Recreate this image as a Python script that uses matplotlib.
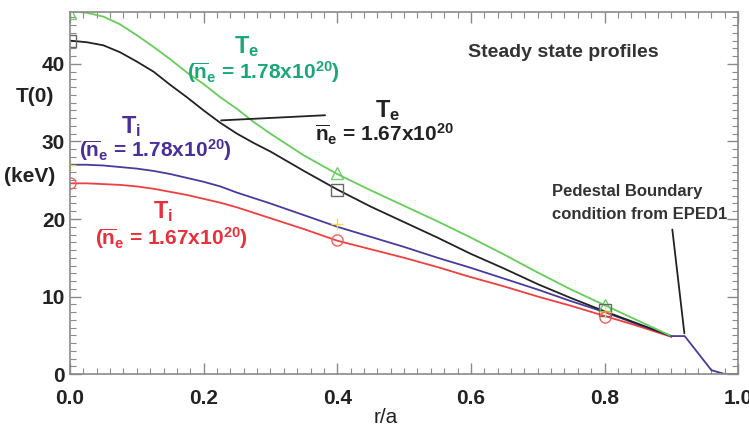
import matplotlib
matplotlib.use("Agg")
import matplotlib.pyplot as plt
from matplotlib.ticker import MultipleLocator

# radial grid (r/a) for the core profiles
r_core = [0.0, 0.025, 0.05, 0.075, 0.1, 0.125, 0.15, 0.175, 0.2, 0.225,
          0.25, 0.275, 0.3, 0.35, 0.4, 0.45, 0.5, 0.55, 0.6, 0.65,
          0.7, 0.75, 0.8, 0.85, 0.9]
te_178 = [46.8, 46.6, 46.1, 45.1, 43.7, 42.2, 40.6, 38.9, 37.4, 35.7,
          34.2, 32.5, 31.0, 28.2, 25.8, 23.7, 21.7, 19.7, 17.6, 15.4,
          13.1, 10.9, 8.9, 6.9, 4.9]
te_167 = [43.0, 42.8, 42.4, 41.5, 40.3, 39.0, 37.3, 35.7, 34.0, 32.4,
          31.0, 29.8, 28.7, 26.2, 23.8, 21.6, 19.6, 17.6, 15.5, 13.6,
          11.6, 9.8, 8.1, 6.5, 4.9]
ti_178 = [27.0, 27.0, 26.9, 26.7, 26.5, 26.2, 25.8, 25.3, 24.8, 24.2,
          23.4, 22.7, 22.0, 20.5, 19.0, 17.7, 16.4, 15.0, 13.7, 12.3,
          10.9, 9.4, 8.0, 6.4, 4.9]
ti_167 = [24.6, 24.6, 24.5, 24.4, 24.2, 23.9, 23.5, 23.1, 22.6, 22.1,
          21.5, 20.8, 20.1, 18.7, 17.2, 16.1, 15.0, 13.8, 12.5, 11.3,
          10.0, 8.8, 7.5, 6.2, 4.8]

# shared pedestal (EPED1 boundary condition)
r_ped = [0.9, 0.92, 0.96, 0.98, 1.0]
t_ped = [4.9, 4.9, 0.5, 0.0, 0.0]

# marker samples at r/a = 0, 0.4, 0.8
r_mark = [0.0, 0.4, 0.8]
te_178_mark = [46.6, 25.9, 8.9]
te_167_mark = [43.0, 23.7, 8.2]
ti_178_mark = [27.0, 19.3, 8.0]
ti_167_mark = [24.6, 17.3, 7.4]

x_ticks = [0.0, 0.2, 0.4, 0.6, 0.8, 1.0]
y_ticks = [0, 10, 20, 30, 40]

FAMILY = "Liberation Sans"
plt.rcParams["font.family"] = [FAMILY, "DejaVu Sans"]
plt.rcParams["font.weight"] = "bold"
plt.rcParams["mathtext.fontset"] = "custom"
plt.rcParams["mathtext.rm"] = f"{FAMILY}:bold"
plt.rcParams["mathtext.it"] = f"{FAMILY}:bold"
plt.rcParams["mathtext.bf"] = f"{FAMILY}:bold"

GREEN = "#66cc5a"
GREEN_TXT = "#1aa877"
BLACK = "#222222"
BLUE = "#4a3a9e"
BLUE_TXT = "#4a2f9a"
RED = "#ee4040"
RED_TXT = "#e8303a"
AXIS = "#8a8a8a"

fig = plt.figure(figsize=(7.49, 4.28), dpi=100)
ax = fig.add_axes([0.0935, 0.126, 0.892, 0.846])

for vals, col in [(ti_167, RED), (ti_178, BLUE), (te_167, BLACK), (te_178, GREEN)]:
    ax.plot(r_core, vals, color=col, lw=1.3)
ax.plot(r_ped, t_ped, color=BLUE, lw=1.3)

ax.plot(r_mark, te_178_mark, ls="none", marker="^", ms=8, mfc="none", mec="#6fd06a", mew=1.0)
ax.plot(r_mark, te_167_mark, ls="none", marker="s", ms=8, mfc="none", mec="#666666", mew=1.0)
ax.plot(r_mark, ti_178_mark, ls="none", marker="+", ms=9, mec="#e8e040", mew=1.0)
ax.plot(r_mark, ti_167_mark, ls="none", marker="o", ms=8, mfc="none", mec="#f06060", mew=1.0)

ax.set_xlim(0, 1.0)
ax.set_ylim(0, 46.7)
ax.set_xticks(x_ticks)
ax.set_xticklabels([f"{v:.1f}" for v in x_ticks])
ax.set_yticks(y_ticks)
ax.xaxis.set_minor_locator(MultipleLocator(0.02))
ax.yaxis.set_minor_locator(MultipleLocator(1))
ax.tick_params(which="both", direction="in", top=True, right=True, color=AXIS,
               labelsize=15, labelcolor="#222222")
ax.tick_params(which="major", length=8, width=1.0)
ax.tick_params(which="minor", length=4, width=0.8)
ax.tick_params(axis="x", pad=11)
for sp in ax.spines.values():
    sp.set_color(AXIS)
    sp.set_linewidth(1.2)
for lab in ax.get_xticklabels() + ax.get_yticklabels():
    lab.set_fontweight("bold")

fig.text(35 / 749, 1 - 97 / 428, "T(0)", ha="center", va="center", fontsize=15, color="#222222")
fig.text(30 / 749, 1 - 177 / 428, "(keV)", ha="center", va="center", fontsize=15, color="#222222")
ax.set_xlabel("r/a", fontsize=15, color="#222222")
ax.xaxis.set_label_coords(0.473, -0.094)

nbar = r"$\overline{\mathrm{n}}_\mathrm{e}$"
ax.text(0.265, 42.3, r"T$_\mathrm{e}$", color=GREEN_TXT, fontsize=17, ha="center", va="center")
ax.text(0.29, 39.0, f"({nbar} = 1.78x10$^{{20}}$)", color=GREEN_TXT, fontsize=15, ha="center", va="center")
ax.text(0.475, 34.0, r"T$_\mathrm{e}$", color=BLACK, fontsize=17, ha="center", va="center")
ax.text(0.47, 30.9, f"{nbar} = 1.67x10$^{{20}}$", color=BLACK, fontsize=15, ha="center", va="center")
ax.text(0.092, 31.9, r"T$_\mathrm{i}$", color=BLUE_TXT, fontsize=17, ha="center", va="center")
ax.text(0.128, 28.9, f"({nbar} = 1.78x10$^{{20}}$)", color=BLUE_TXT, fontsize=15, ha="center", va="center")
ax.text(0.139, 20.9, r"T$_\mathrm{i}$", color=RED_TXT, fontsize=17, ha="center", va="center")
ax.text(0.151, 17.6, f"({nbar} = 1.67x10$^{{20}}$)", color=RED_TXT, fontsize=15, ha="center", va="center")

ax.annotate("", xy=(0.222, 32.7), xytext=(0.386, 33.4),
            arrowprops=dict(arrowstyle="-", color=BLACK, lw=1.3))
ax.text(0.738, 41.5, "Steady state profiles", fontsize=14, color="#333333", ha="center", va="center")
ax.text(0.722, 22.1, "Pedestal Boundary\ncondition from EPED1", fontsize=12, color="#333333",
        ha="left", va="center", linespacing=1.65)
ax.annotate("", xy=(0.92, 4.9), xytext=(0.901, 19.0),
            arrowprops=dict(arrowstyle="-", color=BLACK, lw=1.3))

fig.savefig("out.png", dpi=100)
